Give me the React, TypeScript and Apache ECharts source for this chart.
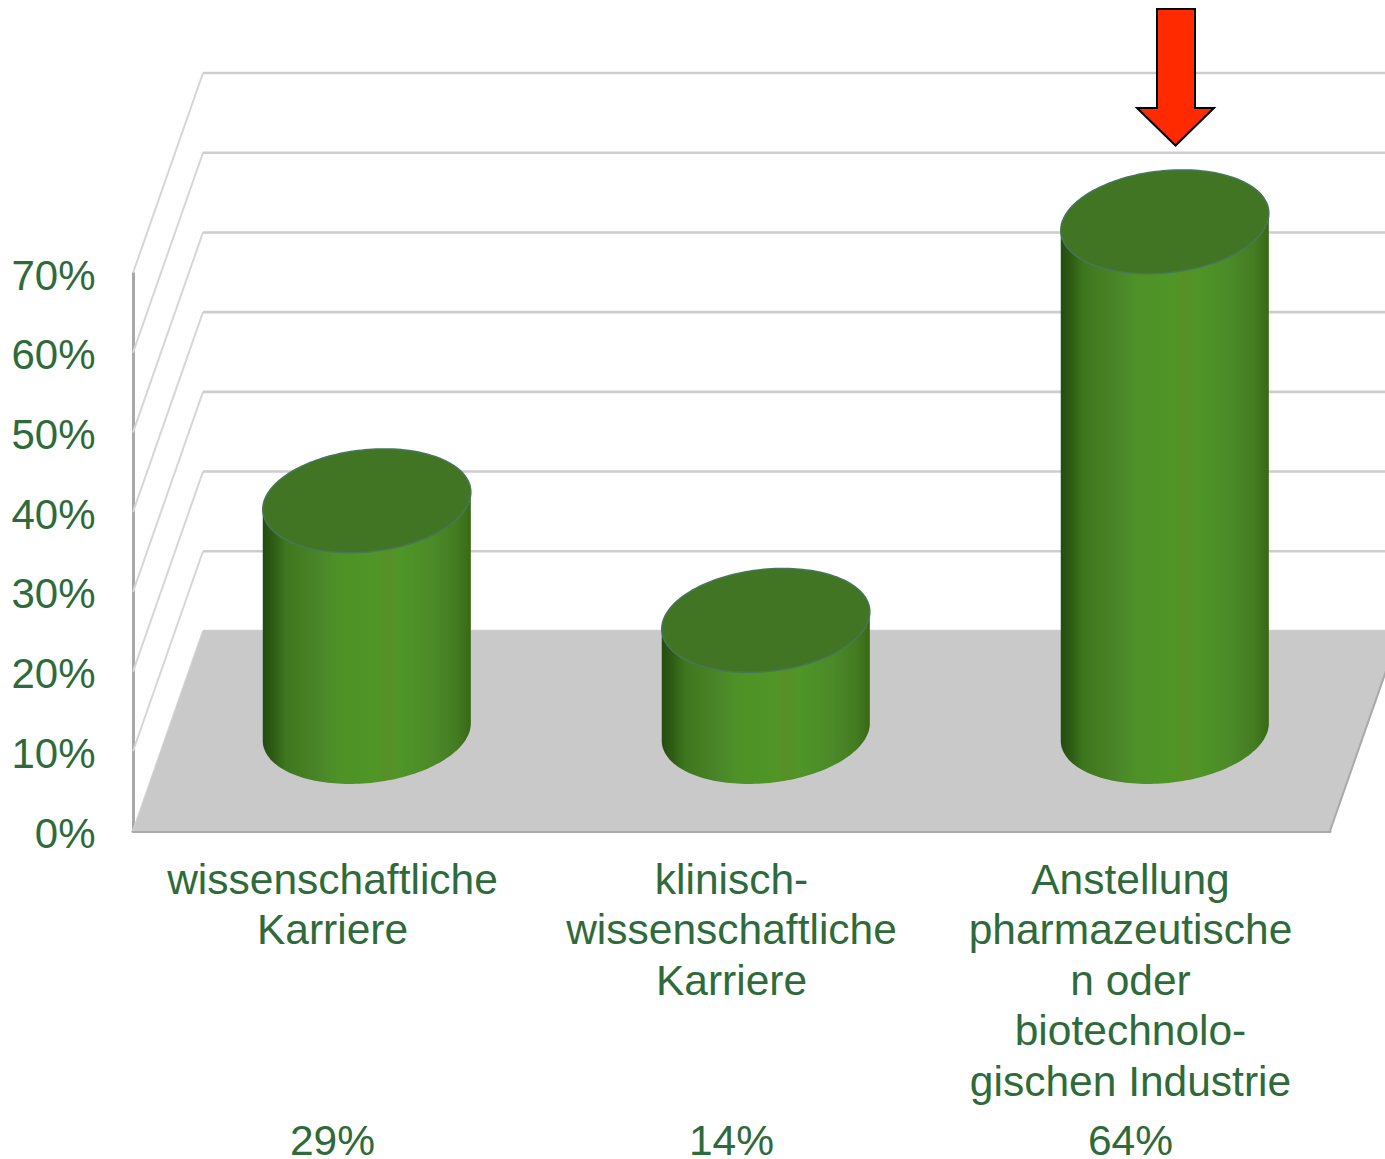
import React, { useEffect, useRef } from "react";
import * as echarts from "echarts";

const categories = [
  "wissenschaftliche\nKarriere",
  "klinisch-\nwissenschaftliche\nKarriere",
  "Anstellung\npharmazeutische\nn oder\nbiotechnolo-\ngischen Industrie",
];
const shares = [29, 14, 64];
const yTicks = [0, 10, 20, 30, 40, 50, 60, 70];

const TEXT_COLOR = "#2f6a3a";
const FONT = "'Liberation Sans', Arial, sans-serif";
const DEPTH_X = 70;
const DEPTH_Y = 200;
const RX = 104.5;
const RY = 51;
const TILT = (6.2 * Math.PI) / 180;

const sideStops = [
  { offset: 0, color: "#234c10" },
  { offset: 0.05, color: "#2f5c14" },
  { offset: 0.11, color: "#3d771e" },
  { offset: 0.2, color: "#467e22" },
  { offset: 0.26, color: "#498429" },
  { offset: 0.36, color: "#4e9227" },
  { offset: 0.55, color: "#509526" },
  { offset: 0.6, color: "#588f26" },
  { offset: 0.66, color: "#4f9527" },
  { offset: 0.82, color: "#4b8a28" },
  { offset: 0.93, color: "#447c21" },
  { offset: 1, color: "#386815" },
];

function ellipsePoint(cx: number, cy: number, t: number): number[] {
  return [
    cx + RX * Math.cos(t) * Math.cos(TILT) + RY * Math.sin(t) * Math.sin(TILT),
    cy - RX * Math.cos(t) * Math.sin(TILT) + RY * Math.sin(t) * Math.cos(TILT),
  ];
}

function ellipseArc(cx: number, cy: number, from: number, to: number, steps: number): number[][] {
  const pts: number[][] = [];
  for (let i = 0; i <= steps; i++) {
    pts.push(ellipsePoint(cx, cy, from + ((to - from) * i) / steps));
  }
  return pts;
}

export default function App() {
  const ref = useRef<HTMLDivElement>(null);

  useEffect(() => {
    if (!ref.current) return;
    const chart = echarts.init(ref.current, undefined, { renderer: "svg" });

    const labelStyle = {
      color: TEXT_COLOR,
      fontFamily: FONT,
      fontSize: 42.5,
      lineHeight: 50.5,
    };

    chart.setOption({
      animation: false,
      backgroundColor: "#ffffff",
      grid: { left: 133, right: 55, top: 273, bottom: 328, outerBoundsMode: "none" },
      xAxis: [
        {
          type: "category",
          data: categories,
          position: "bottom",
          axisLine: { lineStyle: { color: "#a9a9a9", width: 3 } },
          axisTick: { show: false },
          axisLabel: { ...labelStyle, interval: 0, margin: 23 },
        },
        {
          type: "category",
          data: shares.map((v) => `${v}%`),
          position: "bottom",
          offset: 268,
          axisLine: { show: false },
          axisTick: { show: false },
          axisLabel: { ...labelStyle, lineHeight: 36, interval: 0, margin: 23 },
        },
      ],
      yAxis: {
        type: "value",
        min: 0,
        max: 70,
        interval: 10,
        axisLine: { show: true, lineStyle: { color: "#a9a9a9", width: 3 } },
        axisTick: { show: false },
        splitLine: { show: false },
        axisLabel: {
          ...labelStyle,
          fontSize: 42,
          lineHeight: 4,
          verticalAlign: "top",
          formatter: "{value}%",
          margin: 37.5,
        },
      },
      series: [
        {
          type: "custom",
          name: "walls",
          silent: true,
          z: 1,
          data: yTicks.map((v) => [0, v]),
          encode: { x: 0, y: 1 },
          renderItem: (params: any, api: any) => {
            const cs = params.coordSys;
            const y = api.coord([0, api.value(1)])[1];
            return {
              type: "group",
              children: [
                {
                  type: "line",
                  shape: { x1: cs.x, y1: y, x2: cs.x + DEPTH_X, y2: y - DEPTH_Y },
                  style: { stroke: "#d6d6d6", lineWidth: 2 },
                },
                {
                  type: "line",
                  shape: {
                    x1: cs.x + DEPTH_X,
                    y1: y - DEPTH_Y,
                    x2: cs.x + cs.width + DEPTH_X,
                    y2: y - DEPTH_Y,
                  },
                  style: { stroke: "#cdcdcd", lineWidth: 2.6 },
                },
              ],
            };
          },
        },
        {
          type: "custom",
          name: "floor",
          silent: true,
          z: 2,
          data: [[0, 0]],
          encode: { x: 0, y: 1 },
          renderItem: (params: any, api: any) => {
            const cs = params.coordSys;
            const y = api.coord([0, 0])[1];
            return {
              type: "group",
              children: [
                {
                  type: "polygon",
                  shape: {
                    points: [
                      [cs.x, y],
                      [cs.x + DEPTH_X, y - DEPTH_Y],
                      [cs.x + cs.width + DEPTH_X, y - DEPTH_Y],
                      [cs.x + cs.width, y],
                    ],
                  },
                  style: { fill: "#c9c9c9" },
                },
                {
                  type: "line",
                  shape: {
                    x1: cs.x + cs.width,
                    y1: y,
                    x2: cs.x + cs.width + DEPTH_X,
                    y2: y - DEPTH_Y,
                  },
                  style: { stroke: "#a9a9a9", lineWidth: 2 },
                },
              ],
            };
          },
        },
        {
          type: "custom",
          name: "Anteil",
          silent: true,
          z: 3,
          data: shares.map((v, i) => [i, v]),
          encode: { x: 0, y: 1 },
          renderItem: (_params: any, api: any) => {
            const [x, yTop] = api.coord([api.value(0), api.value(1)]);
            const [, y0] = api.coord([api.value(0), 0]);
            const cx = x + DEPTH_X * 0.49;
            const lift = DEPTH_Y * 0.495;
            const topY = yTop - lift;
            const baseY = y0 - lift;
            const t0 = Math.atan2(RY * Math.sin(TILT), RX * Math.cos(TILT));
            const side = [
              ellipsePoint(cx, topY, t0),
              ellipsePoint(cx, topY, t0 + Math.PI),
              ...ellipseArc(cx, baseY, t0 + Math.PI, t0, 90),
            ];
            const top = ellipseArc(cx, topY, 0, Math.PI * 2, 180);
            return {
              type: "group",
              children: [
                {
                  type: "polygon",
                  shape: { points: side },
                  style: {
                    fill: new echarts.graphic.LinearGradient(0, 0, 1, 0, sideStops),
                  },
                },
                {
                  type: "polygon",
                  shape: { points: top },
                  style: { fill: "#417523", stroke: "#47775a", lineWidth: 1.5 },
                },
              ],
            };
          },
        },
      ],
      graphic: [
        {
          type: "polygon",
          z: 10,
          shape: {
            points: [
              [1157, 9],
              [1195, 9],
              [1195, 108],
              [1214, 108],
              [1175.5, 145.5],
              [1137, 108],
              [1157, 108],
            ],
          },
          style: { fill: "#ff2a00", stroke: "#000000", lineWidth: 2 },
        },
      ],
    });

    return () => chart.dispose();
  }, []);

  return (
    <div
      ref={ref}
      style={{ position: "absolute", left: 0, top: 0, width: 1385, height: 1159, overflow: "hidden" }}
    />
  );
}
